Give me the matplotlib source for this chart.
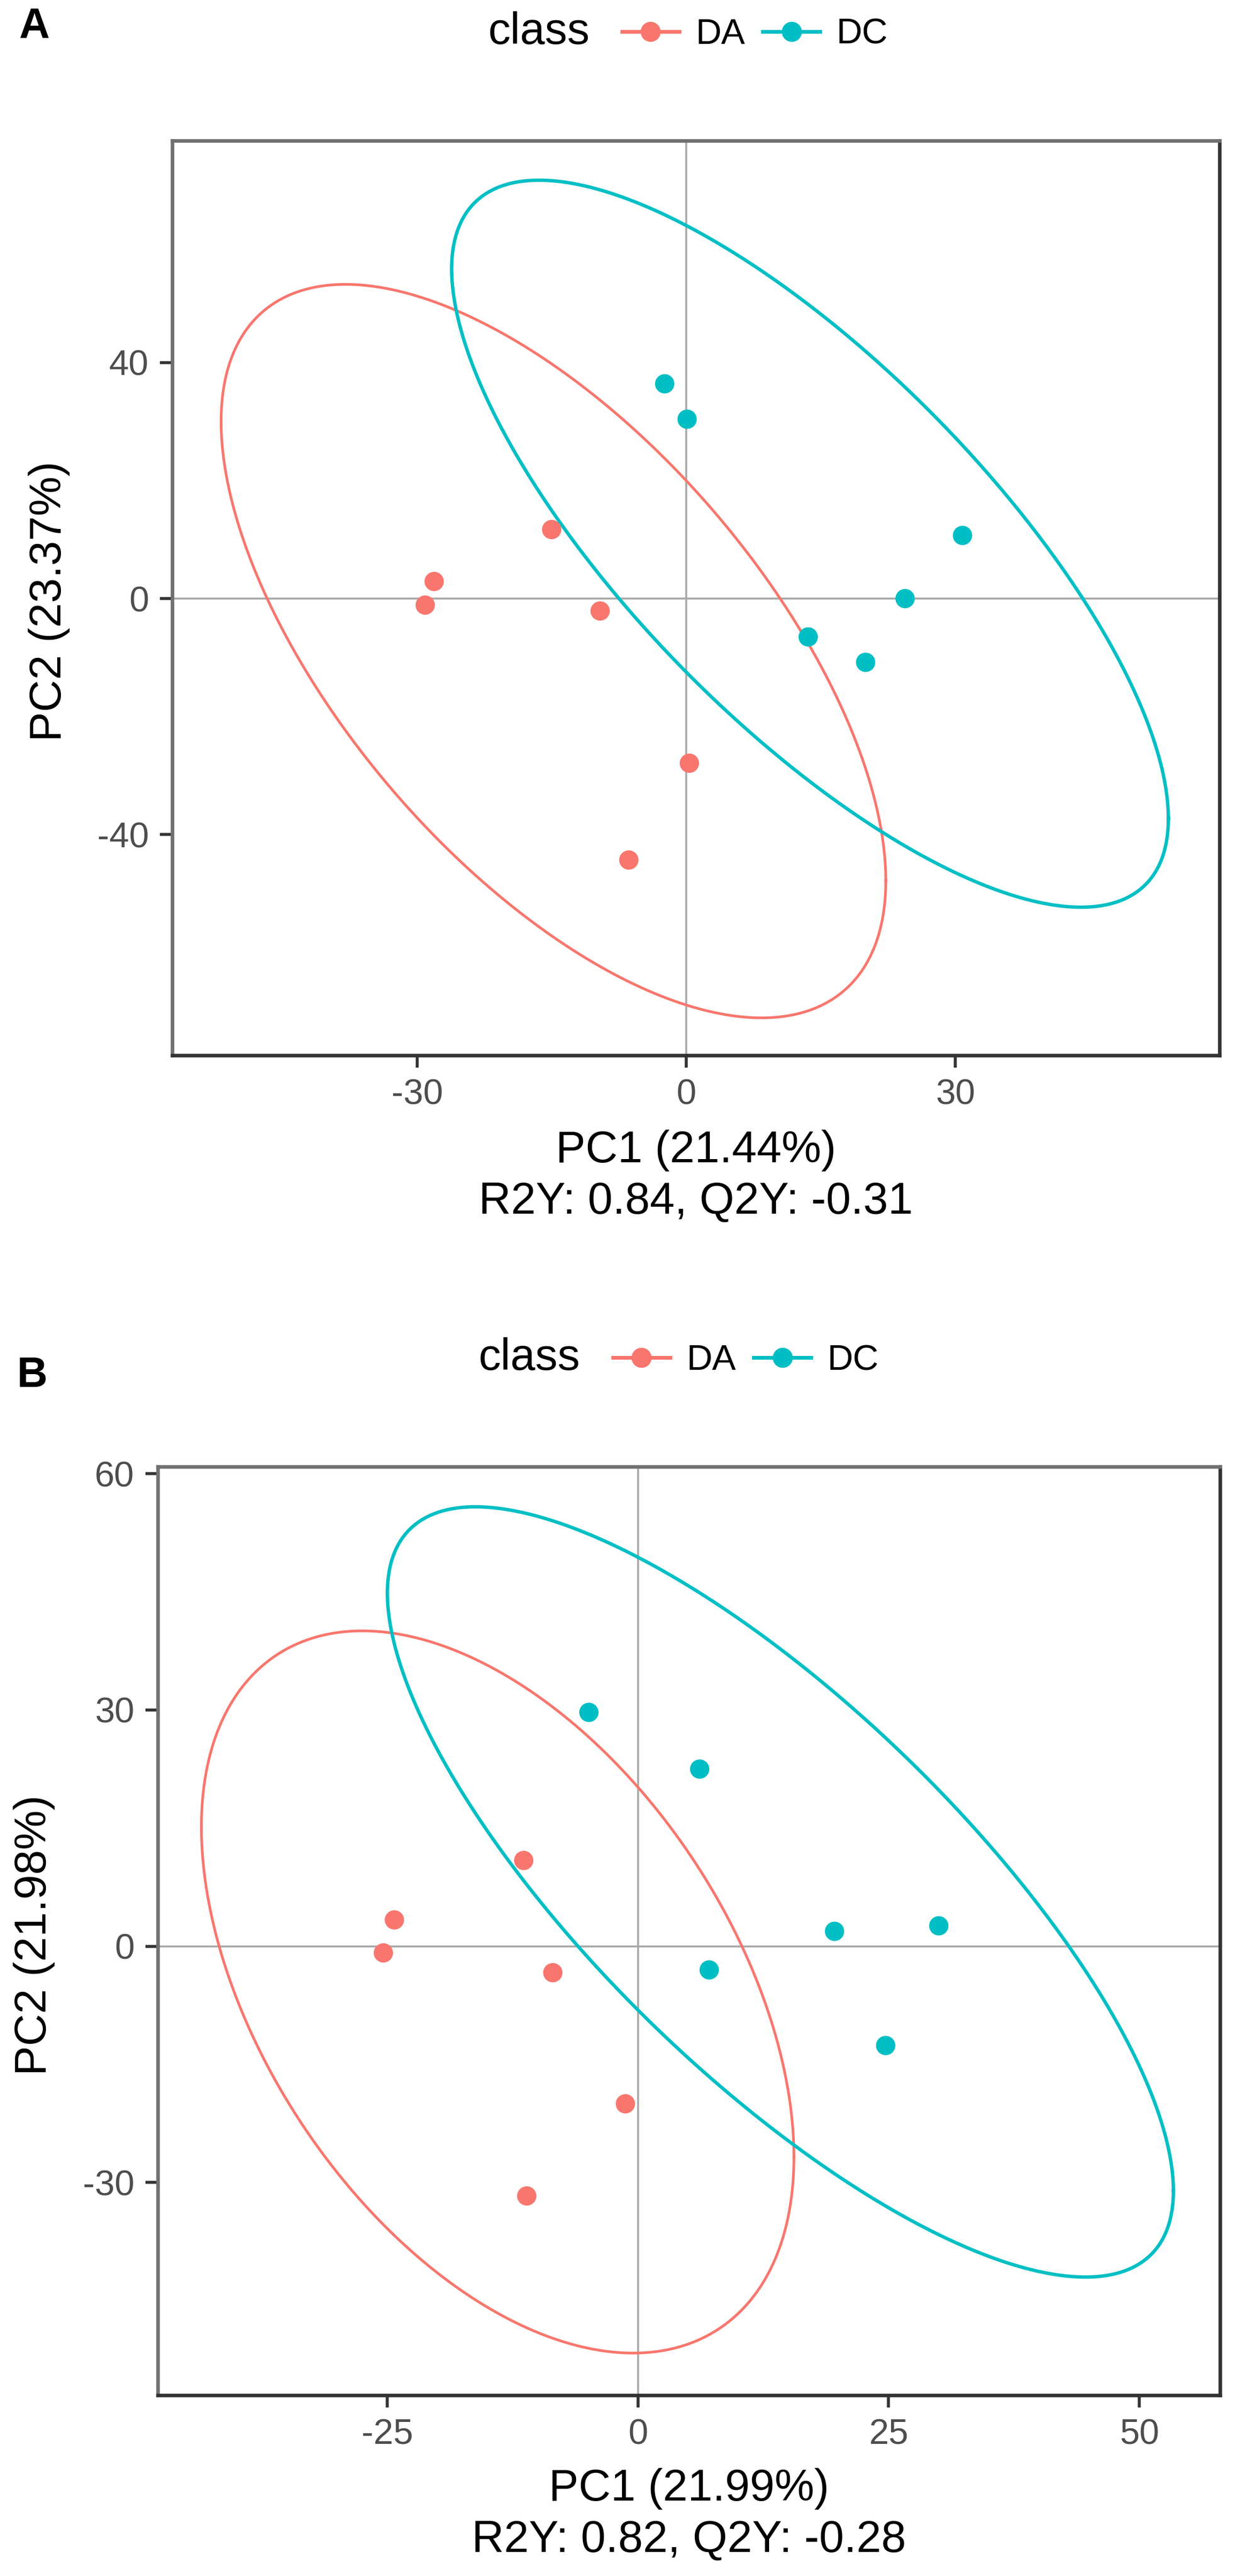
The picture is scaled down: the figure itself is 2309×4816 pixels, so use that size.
import numpy as np
import matplotlib
matplotlib.use("Agg")
import matplotlib.pyplot as plt
from matplotlib.lines import Line2D

plt.rcParams['font.family'] = ['Liberation Sans', 'DejaVu Sans']
plt.rcParams['axes.unicode_minus'] = False

# ---------------- data ----------------
classes = ["DA", "DC"]
class_colors = ["#F8766D", "#00BFC4"]

# Panel A
a_da_x = [-28.1, -29.1, -15.0, -9.6, 0.35, -6.4]
a_da_y = [2.9, -1.1, 11.7, -2.1, -27.9, -44.3]
a_dc_x = [-2.4, 0.1, 30.8, 24.4, 13.6, 20.0]
a_dc_y = [36.4, 30.4, 10.7, 0.0, -6.5, -10.8]
# confidence ellipses: [center x, center y, half-extent x, half-extent y, correlation]
a_ell_da = [-14.8, -8.9, 37.05, 62.15, -0.626]
a_ell_dc = [13.8, 9.3, 39.95, 61.6, -0.756]
a_xticks = [-30, 0, 30]
a_yticks = [-40, 0, 40]
a_xlabel = "PC1 (21.44%)"
a_ylabel = "PC2 (23.37%)"
a_stats = "R2Y: 0.84, Q2Y: -0.31"

# Panel B
b_da_x = [-24.3, -25.4, -11.4, -8.5, -1.26, -11.1]
b_da_y = [3.35, -0.84, 10.9, -3.35, -20.0, -31.7]
b_dc_x = [-4.9, 6.15, 19.6, 30.0, 7.1, 24.7]
b_dc_y = [29.7, 22.5, 1.9, 2.6, -3.0, -12.6]
b_ell_da = [-14.0, -5.8, 29.55, 45.85, -0.457]
b_ell_dc = [14.2, 6.9, 39.2, 48.9, -0.776]
b_xticks = [-25, 0, 25, 50]
b_yticks = [-30, 0, 30, 60]
b_xlabel = "PC1 (21.99%)"
b_ylabel = "PC2 (21.98%)"
b_stats = "R2Y: 0.82, Q2Y: -0.28"

# ---------------- figure ----------------
W, H = 2309, 4816
DPI = 100
fig = plt.figure(figsize=(W / DPI, H / DPI), dpi=DPI, facecolor="white")


def fx(px):
    return px / W


def fy(py):
    return 1 - py / H


def ellipse_path(params, n=300):
    cx, cy, sx, sy, r = params
    M = np.array([[sx * sx, r * sx * sy], [r * sx * sy, sy * sy]])
    L = np.linalg.cholesky(M)
    t = np.linspace(0, 2 * np.pi, n)
    u = np.vstack([np.cos(t), np.sin(t)])
    p = L @ u
    return cx + p[0], cy + p[1]


def draw_panel(ax, da_x, da_y, dc_x, dc_y, ell_da, ell_dc, xlim, ylim, xticks, yticks):
    ax.set_facecolor("white")
    ax.axhline(0, color="#a8a8a8", lw=2.6, zorder=1)
    ax.axvline(0, color="#a8a8a8", lw=2.6, zorder=1)
    ex, ey = ellipse_path(ell_da)
    ax.plot(ex, ey, color=class_colors[0], lw=3.6, zorder=2)
    ex, ey = ellipse_path(ell_dc)
    ax.plot(ex, ey, color=class_colors[1], lw=4.6, zorder=2)
    ax.scatter(da_x, da_y, s=26 ** 2, color=class_colors[0], edgecolors="none", zorder=3)
    ax.scatter(dc_x, dc_y, s=26 ** 2, color=class_colors[1], edgecolors="none", zorder=3)
    ax.set_xlim(*xlim)
    ax.set_ylim(*ylim)
    ax.set_xticks(xticks)
    ax.set_yticks(yticks)
    ax.set_xticklabels([str(v) for v in xticks])
    ax.set_yticklabels([str(v) for v in yticks])
    ax.tick_params(axis="both", direction="out", length=16.5, width=4.0,
                   color="#333333", labelsize=48, labelcolor="#4d4d4d", pad=15)
    for side in ["left", "top"]:
        ax.spines[side].set_color("#707070")
        ax.spines[side].set_linewidth(4.8)
    for side in ["right", "bottom"]:
        ax.spines[side].set_color("#333333")
        ax.spines[side].set_linewidth(4.8)
    ax.grid(False)


# axes positions (pixels from reference)
axA = fig.add_axes([fx(322), fy(1973), (2280 - 322) / W, (1973 - 263) / H])
axB = fig.add_axes([fx(295), fy(4478), (2281 - 295) / W, (4478 - 2742) / H])

draw_panel(axA, a_da_x, a_da_y, a_dc_x, a_dc_y, a_ell_da, a_ell_dc,
           (-57.3, 59.45), (-77.4, 77.6), a_xticks, a_yticks)
draw_panel(axB, b_da_x, b_da_y, b_dc_x, b_dc_y, b_ell_da, b_ell_dc,
           (-47.9, 58.05), (-57.0, 60.9), b_xticks, b_yticks)

# axis titles
TITLE_FS = 60
for cx, b1, b2, xl, st in [(1301, 2173, 2269, a_xlabel, a_stats),
                           (1288, 4675, 4771, b_xlabel, b_stats)]:
    fig.text(fx(cx), fy(b1), xl, ha="center", va="baseline", fontsize=TITLE_FS, color="black")
    fig.text(fx(cx), fy(b2), st, ha="center", va="baseline", fontsize=TITLE_FS, color="black")

for bx, cy, yl in [(114, 1124, a_ylabel), (86, 3618, b_ylabel)]:
    fig.text(fx(bx), fy(cy), yl, ha="center", va="baseline", rotation=90,
             rotation_mode="anchor", fontsize=TITLE_FS, color="black")

# panel letters
fig.text(fx(35), fy(71), "A", ha="left", va="baseline", fontsize=57, fontweight="bold")
fig.text(fx(32), fy(2593), "B", ha="left", va="baseline", fontsize=57, fontweight="bold")

# legends
handles = [Line2D([], [], color=c, lw=5.0, marker="o", markersize=27,
                  markeredgewidth=0) for c in class_colors]
for class_x, base_y, handle_x in [(913, 82, 1163), (895, 2561, 1146)]:
    fig.text(fx(class_x), fy(base_y), "class", ha="left", va="baseline",
             fontsize=TITLE_FS, color="black")
    fig.legend(handles, classes, loc="center left",
               bbox_to_anchor=(fx(handle_x), fy(base_y - 17)),
               ncol=2, frameon=False, fontsize=48, borderpad=0, borderaxespad=0,
               handlelength=1.6, handletextpad=0.46, columnspacing=0.5,
               numpoints=1)

fig.savefig("out.png", dpi=DPI, facecolor="white")
